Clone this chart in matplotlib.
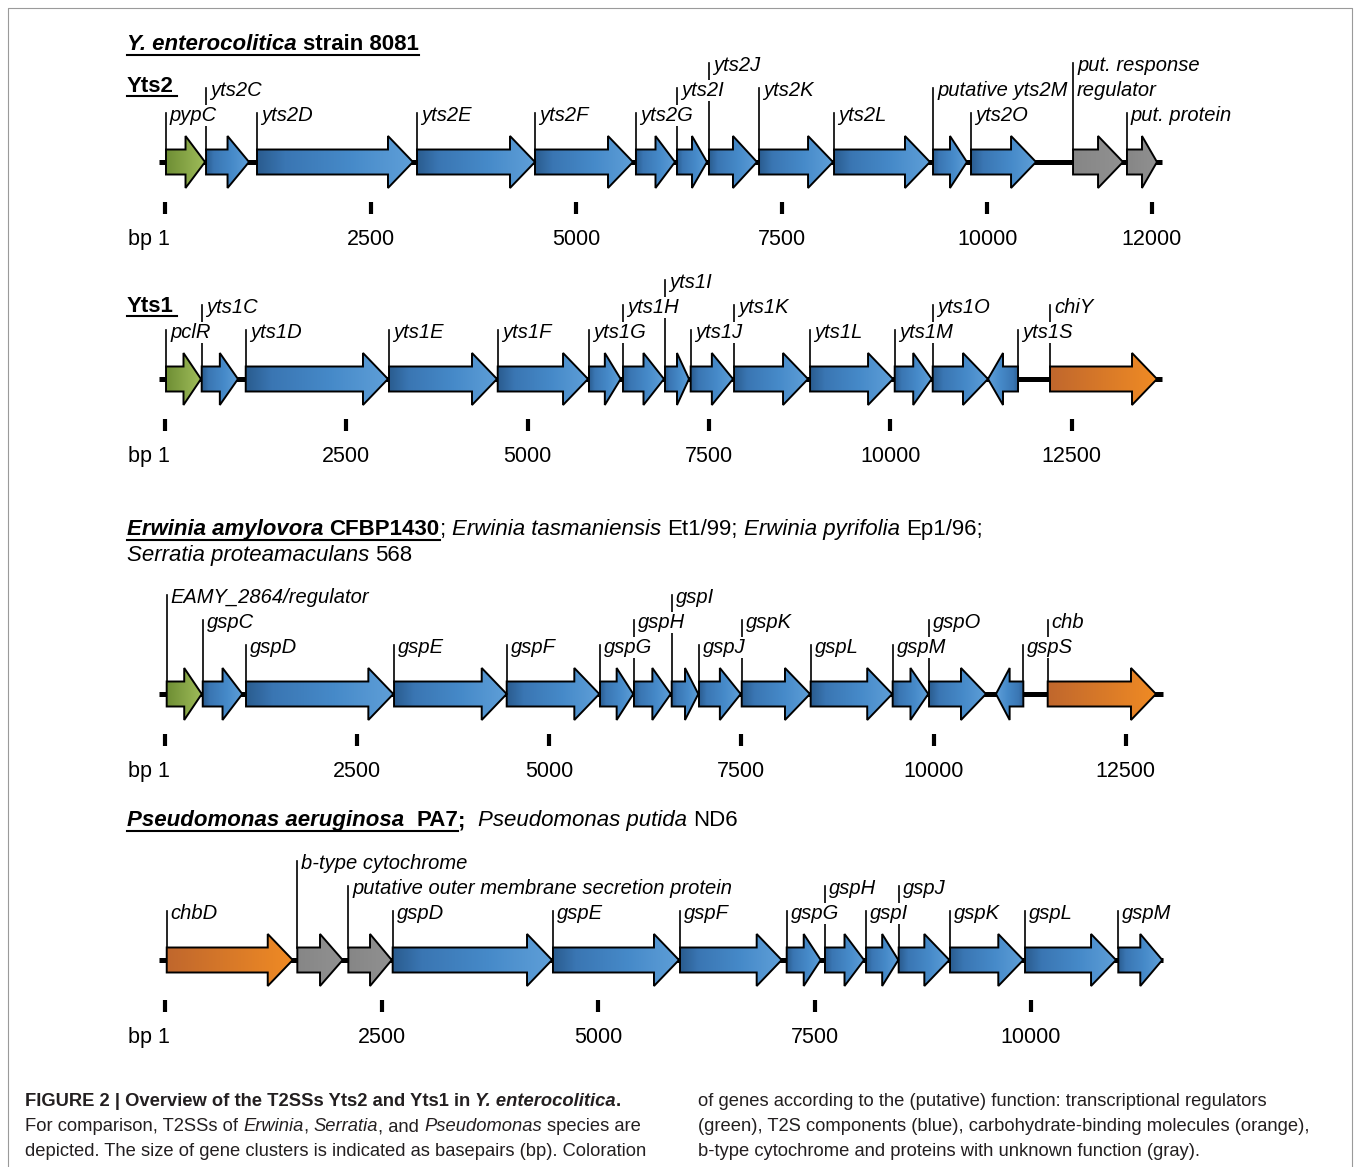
import numpy as np
import matplotlib
matplotlib.use("Agg")
import matplotlib.pyplot as plt
from matplotlib.patches import Polygon
from matplotlib.colors import LinearSegmentedColormap
from matplotlib.transforms import offset_copy

plt.rcParams['font.family'] = ['Liberation Sans', 'DejaVu Sans']

# ---- data (bp); start > end means the gene is on the reverse strand ----
yts2_names = ["pypC", "yts2C", "yts2D", "yts2E", "yts2F", "yts2G", "yts2I", "yts2J",
              "yts2K", "yts2L", "putative yts2M", "yts2O", "put. response\nregulator", "put. protein"]
yts2_start = [12, 499, 1119, 3065, 4500, 5728, 6227, 6616, 7225, 8137, 9341, 9803, 11044, 11700]
yts2_end = [487, 1022, 3016, 4500, 5692, 6203, 6592, 7200, 8125, 9304, 9754, 10594, 11652, 12065]
yts2_kind = ["reg"] + ["t2s"] * 11 + ["unk", "unk"]
yts2_span = [-73, 12126]
yts2_ticks = [1, 2500, 5000, 7500, 10000, 12000]

yts1_names = ["pclR", "yts1C", "yts1D", "yts1E", "yts1F", "yts1G", "yts1H", "yts1I", "yts1J",
              "yts1K", "yts1L", "yts1M", "yts1O", "yts1S", "chiY"]
yts1_start = [14, 506, 1113, 3088, 4587, 5845, 6314, 6893, 7247, 7845, 8893, 10060, 10584, 11760, 12201]
yts1_end = [496, 1006, 3074, 4577, 5832, 6282, 6879, 7224, 7831, 8865, 10037, 10570, 11346, 11346, 13676]
yts1_kind = ["reg"] + ["t2s"] * 13 + ["chb"]
yts1_span = [-83, 13745]
yts1_ticks = [1, 2500, 5000, 7500, 10000, 12500]

erw_names = ["EAMY_2864/regulator", "gspC", "gspD", "gspE", "gspF", "gspG", "gspH", "gspI",
             "gspJ", "gspK", "gspL", "gspM", "gspO", "gspS", "chb"]
erw_start = [22, 491, 1054, 2980, 4446, 5660, 6102, 6593, 6948, 7504, 8401, 9468, 9941, 11168, 11485]
erw_end = [478, 1006, 2971, 4446, 5651, 6093, 6580, 6939, 7491, 8392, 9462, 9931, 10682, 10812, 12894]
erw_kind = ["reg"] + ["t2s"] * 13 + ["chb"]
erw_span = [-80, 12981]
erw_ticks = [1, 2500, 5000, 7500, 10000, 12500]

pse_names = ["chbD", "b-type cytochrome", "putative outer membrane secretion protein", "gspD",
             "gspE", "gspF", "gspG", "gspH", "gspI", "gspJ", "gspK", "gspL", "gspM"]
pse_start = [20, 1528, 2117, 2629, 4480, 5947, 7179, 7621, 8095, 8472, 9065, 9931, 11008]
pse_end = [1475, 2052, 2618, 4469, 5935, 7121, 7572, 8072, 8468, 9057, 9911, 10982, 11516]
pse_kind = ["chb", "unk", "unk"] + ["t2s"] * 10
pse_span = [-70, 11530]
pse_ticks = [1, 2500, 5000, 7500, 10000]

# label rows (layout)
yts2_rows = [0, 1, 0, 0, 0, 0, 1, 2, 1, 0, 1, 0, 1, 0]
yts1_rows = [0, 1, 0, 0, 0, 0, 1, 2, 0, 1, 0, 0, 1, 0, 1]
erw_rows = [2, 1, 0, 0, 0, 0, 1, 2, 0, 1, 0, 0, 1, 0, 1]
pse_rows = [0, 2, 1, 0, 0, 0, 0, 1, 0, 1, 0, 0, 0]

cmaps = {
    "t2s": LinearSegmentedColormap.from_list("t2s", [(0, "#2a5c8f"), (0.18, "#3a76b3"), (0.6, "#468ac9"), (1, "#5f9fd8")]),
    "reg": LinearSegmentedColormap.from_list("reg", [(0, "#6e8e34"), (1, "#a0bd5a")]),
    "chb": LinearSegmentedColormap.from_list("chb", [(0, "#c0672d"), (1, "#f08b24")]),
    "unk": LinearSegmentedColormap.from_list("unk", [(0, "#868686"), (1, "#919191")]),
}

W, H = 1357, 1167
fig = plt.figure(figsize=(W / 100, H / 100), dpi=100)
bg = fig.add_axes([0, 0, 1, 1])
bg.set_xlim(0, W)
bg.set_ylim(H, 0)
bg.axis("off")
renderer = fig.canvas.get_renderer()

# frame
bg.plot([8, 8, 1352, 1352], [1167, 8, 8, 1167], color="#9a9a9a", lw=0.8)


def draw_cluster(cy, scale, names, starts, ends, kinds, rows, span, ticks):
    ax = fig.add_axes([0, 1 - (cy + 100) / H, 1, 220 / H])
    ax.axis("off")
    ax.plot(span, [0, 0], color="black", lw=3.6, solid_capstyle="butt", zorder=1)
    shift = offset_copy(ax.transData, fig=fig, x=4, y=0, units="dots")
    grad = np.linspace(0, 1, 256).reshape(1, -1)
    for name, a, b, kind, row in zip(names, starts, ends, kinds, rows):
        d = 1 if b > a else -1
        head = min(25 / scale, 0.5 * abs(b - a))
        neck = b - d * head
        poly = Polygon([(a, -12.5), (neck, -12.5), (neck, -26), (b, 0), (neck, 26), (neck, 12.5), (a, 12.5)],
                       closed=True, fc="none", ec="black", lw=1.4, zorder=3, joinstyle="miter")
        ax.add_patch(poly)
        im = ax.imshow(grad if d > 0 else grad[:, ::-1], cmap=cmaps[kind],
                       extent=(min(a, b), max(a, b), 26, -26), aspect="auto", zorder=2)
        im.set_clip_path(poly)
        lines = name.split("\n")
        top_row = row + len(lines) - 1
        ax.plot([a, a], [-12.5, -41 - 25 * top_row - 8], color="black", lw=1.2, zorder=1)
        for i, ln in enumerate(lines):
            ax.text(a, -41 - 25 * (top_row - i), ln, transform=shift, fontsize=14.5, style="italic",
                    va="baseline", ha="left", zorder=4,
                    bbox=dict(fc="white", ec="none", pad=0.8))
    ax.vlines(ticks, 40, 52, color="black", lw=3)
    for t in ticks:
        if t == 1:
            ax.text(t, 83, "bp 1", transform=offset_copy(ax.transData, fig=fig, x=5, y=0, units="dots"),
                    fontsize=15.5, ha="right", va="baseline")
        else:
            ax.text(t, 83, str(t), fontsize=15.5, ha="center", va="baseline")
    ax.set_xlim(-165 / scale, (W - 165) / scale)
    ax.set_ylim(100, -120)
    return ax


draw_cluster(162, 0.08222, yts2_names, yts2_start, yts2_end, yts2_kind, yts2_rows, yts2_span, yts2_ticks)
draw_cluster(379, 0.072536, yts1_names, yts1_start, yts1_end, yts1_kind, yts1_rows, yts1_span, yts1_ticks)
draw_cluster(694, 0.076856, erw_names, erw_start, erw_end, erw_kind, erw_rows, erw_span, erw_ticks)
draw_cluster(960, 0.0866, pse_names, pse_start, pse_end, pse_kind, pse_rows, pse_span, pse_ticks)


def text_w(s, **kw):
    t = bg.text(0, 0, s, **kw)
    w = t.get_window_extent(renderer).width
    t.remove()
    return w


def draw_runs(x, y, parts, size, color="black"):
    for s, style, weight in parts:
        kw = dict(fontsize=size, style=style, weight=weight)
        sw = text_w("a a", **kw) - text_w("aa", **kw)
        core = s.strip(" ")
        x += (len(s) - len(s.lstrip(" "))) * sw
        if core:
            t = bg.text(x, y, core, color=color, va="baseline", ha="left", **kw)
            x += t.get_window_extent(renderer).width
        x += (len(s) - len(s.rstrip(" "))) * sw
    return x


N, I, B = "normal", "italic", "bold"

x1 = draw_runs(127, 50, [("Y. enterocolitica", I, B), (" strain 8081", N, B)], 16)
bg.plot([127, x1], [54.5, 54.5], color="black", lw=1.5)
x1 = draw_runs(127, 92, [("Yts2", N, B)], 16)
bg.plot([127, x1 + 3], [96, 96], color="black", lw=1.5)
x1 = draw_runs(127, 312, [("Yts1", N, B)], 16)
bg.plot([127, x1 + 3], [316, 316], color="black", lw=1.5)

x1 = draw_runs(127, 535, [("Erwinia amylovora", I, B), (" CFBP1430", N, B)], 16)
bg.plot([127, x1], [539.5, 539.5], color="black", lw=1.5)
draw_runs(x1, 535, [("; ", N, N), ("Erwinia tasmaniensis", I, N), (" Et1/99; ", N, N),
                    ("Erwinia pyrifolia", I, N), (" Ep1/96;", N, N)], 16)
draw_runs(127, 561, [("Serratia proteamaculans", I, N), (" 568", N, N)], 16)

x1 = draw_runs(127, 826, [("Pseudomonas aeruginosa", I, B), ("  PA7", N, B)], 16)
bg.plot([127, x1], [830.5, 830.5], color="black", lw=1.5)
draw_runs(x1, 826, [(";  ", N, B), ("Pseudomonas putida", I, N), (" ND6", N, N)], 16)

# caption
cap = "#231f20"
cs = 12 * 625 / text_w("depicted. The size of gene clusters is indicated as basepairs (bp). Coloration", fontsize=12)
draw_runs(25, 1106, [("FIGURE 2 | Overview of the T2SSs Yts2 and Yts1 in ", N, B), ("Y. enterocolitica", I, B),
                     (".", N, B)], cs, cap)
draw_runs(25, 1131, [("For comparison, T2SSs of ", N, N), ("Erwinia", I, N), (", ", N, N), ("Serratia", I, N),
                     (", and ", N, N), ("Pseudomonas", I, N), (" species are", N, N)], cs, cap)
draw_runs(25, 1156, [("depicted. The size of gene clusters is indicated as basepairs (bp). Coloration", N, N)], cs, cap)
draw_runs(698, 1106, [("of genes according to the (putative) function: transcriptional regulators", N, N)], cs, cap)
draw_runs(698, 1131, [("(green), T2S components (blue), carbohydrate-binding molecules (orange),", N, N)], cs, cap)
draw_runs(698, 1156, [("b-type cytochrome and proteins with unknown function (gray).", N, N)], cs, cap)

fig.savefig("out.png", dpi=100)
